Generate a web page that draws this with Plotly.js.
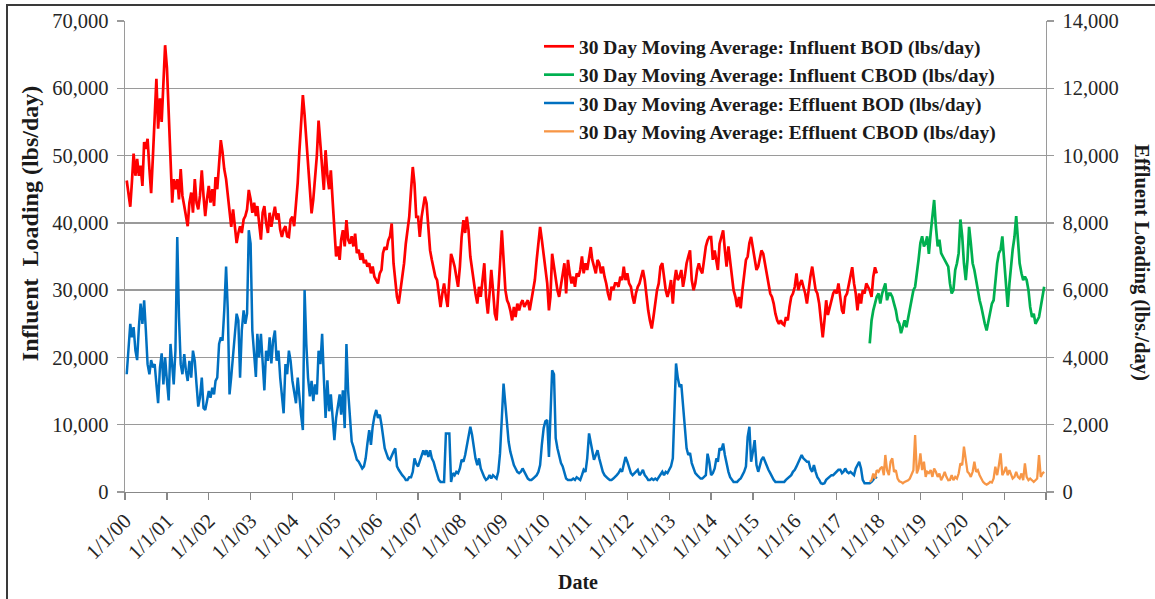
<!DOCTYPE html>
<html><head><meta charset="utf-8">
<script src="https://cdn.plot.ly/plotly-3.0.1.min.js"></script>
<style>
html,body{margin:0;padding:0;background:#fff;overflow:hidden;}
#chart{width:1155px;height:599px;}
#frame{position:absolute;left:6px;top:4px;width:1200px;height:700px;border:2px solid #3a3a3a;pointer-events:none;}
</style></head><body>
<div id="chart"></div><div id="frame"></div>
<script>
// ---- tick labels ----
const yearLabels = ['1/1/00','1/1/01','1/1/02','1/1/03','1/1/04','1/1/05','1/1/06','1/1/07','1/1/08','1/1/09','1/1/10',
  '1/1/11','1/1/12','1/1/13','1/1/14','1/1/15','1/1/16','1/1/17','1/1/18','1/1/19','1/1/20','1/1/21',''];
const yearTickDates = ['2000-01-01','2001-01-01','2002-01-01','2003-01-01','2004-01-01','2005-01-01','2006-01-01','2007-01-01',
  '2008-01-01','2009-01-01','2010-01-01','2011-01-01','2012-01-01','2013-01-01','2014-01-01','2015-01-01','2016-01-01',
  '2017-01-01','2018-01-01','2019-01-01','2020-01-01','2021-01-01','2022-01-01'];

// ---- series: semi-monthly readings (1st and 16th of each month) ----
const influentBODStart = [2000, 1];   // [year, half-month index]
const influentBOD = [
  46300,44500,42400,46000,50300,47000,49500,47000,48500,45500,52000,51000,52500,48000,44400,50000,57000,61400,54000,58500,55000,60000,66400,
  63000,57000,50000,43000,46500,45000,46500,43500,48000,44000,42500,41000,39500,43000,44500,41500,46500,43000,42000,44000,47800,44000,41000,43500,
  45500,43000,45000,42500,46800,45000,48500,52300,50500,48000,46500,44000,42500,39400,42000,40000,37000,38500,39500,38500,40500,41000,42000,44900,
  43500,41500,43000,41000,42500,40000,37500,41500,42500,40000,38500,41500,39400,41000,42400,40500,41400,39000,37900,39000,39500,38000,37900,40500,
  40900,39500,42900,46000,50500,54800,59000,56000,52500,49000,45000,41400,43500,46500,50000,55200,52000,47800,44900,50800,47000,45000,47800,43500,
  38500,35000,36500,34500,37500,38900,36500,40400,37500,36900,38000,36500,38400,35500,36000,34500,35500,34000,34500,33500,34000,32500,33500,32000,
  31500,31000,32500,33000,35500,36400,36000,37400,38000,39900,34000,31000,29000,28000,30000,32000,34000,36900,39000,40900,44900,48300,45800,40900,
  40900,37900,40900,42400,43900,42900,38900,35900,34500,33000,32000,31500,29000,27500,29500,31000,29000,27500,31500,35400,34500,33500,32000,30500,
  33500,37900,40400,38500,40900,39000,35000,33000,31000,29500,28000,30500,29000,32000,34000,29000,26500,29500,33000,30000,26500,25500,29000,34000,
  38900,34500,30000,28500,28000,27000,25500,27500,26000,28000,27000,28000,28500,27500,28000,28500,27000,28500,29500,31500,34500,37000,39400,37500,
  35000,33500,31000,27000,29000,35400,33500,31000,30000,29000,31000,32500,34000,29500,34500,32500,31000,32000,30500,32500,32000,33000,35000,32500,
  34000,33000,35000,36400,34500,33500,32500,34500,34000,32500,33500,32000,31000,29500,28500,30500,30000,31000,31000,30500,32000,31500,33500,31500,
  32500,31000,30500,29000,28000,29500,30500,31000,32000,33000,31500,29000,27000,25500,24300,26000,28500,30000,31000,33500,34000,32000,30000,29000,
  30000,31500,28000,31500,33000,31500,32000,33000,30500,32000,34000,35000,35900,31500,30000,31000,33000,34000,33000,32500,34500,36500,37400,37900,
  37900,34500,35900,34000,33000,36900,38000,38900,36000,33500,36500,34000,31500,30000,29000,27500,29000,27300,30000,32500,34500,35000,37000,37900,
  36000,34500,33000,33500,34500,35900,35400,34000,32000,31000,29500,29000,28000,26500,25500,25000,25500,25000,24800,26000,25500,27500,29000,29500,
  30500,32500,30000,31000,31500,30500,29500,28000,30500,32000,33500,32000,30000,29500,28000,25500,23000,25500,28500,26300,27500,28500,29500,30000,
  29500,31000,28500,27000,26500,29000,29500,31000,32500,33400,31000,29500,27000,29500,28000,30000,29500,31000,30500,30000,29000,32000,33400,32500
];

const influentCBODStart = [2017, 19];
const influentCBOD = [
  22100,25500,27000,28000,29000,
  29500,28000,29500,30500,31000,28500,29500,29500,29000,28000,27000,25500,25000,23600,24500,25500,24500,26000,27000,28500,30000,30500,33000,34500,
  37000,38000,36500,37000,38000,35400,38500,41000,43400,39500,36500,37500,35500,35000,34500,34000,33500,31000,29500,30000,33000,34000,35500,40500,
  38000,34000,31500,34500,39400,37000,34000,33000,31500,29500,28500,27500,26000,25000,24000,25500,27000,28000,28500,31500,34000,35500,36000,38000,
  34500,30500,27500,31000,33500,36000,37900,41000,37500,34000,32500,31500,32000,31500,30000,27500,26000,26500,25000,25500,26000,27500,29000,30500
];

const effluentBODStart = [2000, 1];
const effluentBOD = [
  3500,4200,5000,4600,4900,4200,3920,4900,5600,5000,5700,4800,3800,3500,3920,3700,3800,3200,2640,3700,4120,3200,4000,
  3300,2720,4400,3600,3200,4200,7580,5200,3800,3500,4100,3600,3300,3900,3400,4200,3900,3200,2540,2800,3400,2500,2440,2700,
  3000,2800,3100,2900,3300,3400,4400,4600,4500,5400,6700,5400,2900,3420,4000,4600,5300,5100,3400,4800,5400,5000,5300,7780,
  7380,4800,4000,3420,4700,4000,4700,3800,3020,4200,3900,4600,3820,4500,4800,3900,4200,3400,2900,2340,3800,3500,4200,3900,
  3300,3000,2640,3400,2800,2300,1840,6000,4400,3400,2840,3300,2700,3200,2900,4200,3800,4700,3400,2200,3320,2400,2900,2200,
  1540,2200,2500,2900,2300,3020,1900,4400,3000,2240,1500,1340,1100,960,900,800,700,760,1000,1440,1840,1400,1940,2240,
  2440,2200,2300,2000,1600,1300,1140,1000,960,1100,1200,1300,760,660,560,500,440,360,360,440,440,600,1000,840,
  760,900,1100,1240,1100,1240,1040,1240,1000,900,700,500,360,300,300,300,1740,1740,1740,300,560,500,600,560,
  700,960,900,1100,1340,1600,1940,1700,1340,1000,800,1000,700,560,440,360,400,500,400,500,440,400,600,1140,
  2200,3220,2600,2000,1500,1200,960,800,700,600,560,600,700,600,500,400,360,360,400,440,500,600,800,1400,
  1900,2100,2140,1040,2400,3620,3500,1600,1300,1100,860,760,600,400,360,360,360,400,360,440,400,360,500,660,
  600,1000,1740,1500,1300,960,1100,1240,1000,800,600,500,440,400,360,360,400,440,500,560,660,600,800,1040,
  900,700,560,500,560,600,660,500,560,660,500,440,360,360,400,360,400,360,440,500,600,500,600,560,
  660,760,1000,2800,3820,3400,3120,3200,2600,2000,1300,1100,1160,860,700,560,500,440,400,400,440,500,1140,900,
  500,560,700,1000,900,1300,1240,1440,1100,800,600,440,360,300,300,300,360,400,500,600,760,1640,1940,900,
  1200,1540,800,600,760,960,1040,900,800,660,560,440,360,300,300,300,300,300,300,360,400,440,500,600,
  660,760,900,1000,1100,1000,960,900,900,700,600,800,600,440,360,260,240,260,360,400,440,500,500,560,
  600,660,660,560,600,700,600,560,600,560,500,700,800,900,700,360,260,260,260,260,300,360,460,400
];

const effluentCBODStart = [2017, 19];
const effluentCBOD = [
  300,350,550,400,650,
  600,700,750,500,1100,650,500,900,1000,600,650,400,320,300,260,300,320,350,400,550,650,1690,550,700,
  1150,650,900,450,600,560,650,450,700,600,450,550,350,450,600,450,350,360,500,350,450,400,550,850,
  800,1350,1000,600,550,450,600,900,600,650,500,400,300,250,220,250,300,280,400,750,500,800,1150,500,
  600,750,500,650,550,400,450,600,450,400,550,350,850,450,350,400,350,300,350,400,1100,450,550,600
];

const seriesNames = [
  '30 Day Moving Average: Influent BOD (lbs/day)',
  '30 Day Moving Average: Influent CBOD (lbs/day)',
  '30 Day Moving Average: Effluent BOD (lbs/day)',
  '30 Day Moving Average: Effluent CBOD (lbs/day)'
];

function halfMonthDates(start, n) {
  const out = [];
  for (let k = 0; k < n; k++) {
    const h = start[1] + k;
    const yy = start[0] + Math.floor(h / 24);
    const r = h % 24;
    const m = Math.floor(r / 2) + 1;
    const d = (r % 2) ? 16 : 1;
    out.push(yy + '-' + String(m).padStart(2, '0') + '-' + String(d).padStart(2, '0'));
  }
  return out;
}

const FONT = 'Liberation Serif, Times New Roman, serif';
const traces = [
  {x: halfMonthDates(influentBODStart, influentBOD.length), y: influentBOD, name: seriesNames[0],
   type: 'scatter', mode: 'lines', line: {color: '#FF0000', width: 2.7}, yaxis: 'y'},
  {x: halfMonthDates(influentCBODStart, influentCBOD.length), y: influentCBOD, name: seriesNames[1],
   type: 'scatter', mode: 'lines', line: {color: '#00B050', width: 2.7}, yaxis: 'y'},
  {x: halfMonthDates(effluentBODStart, effluentBOD.length), y: effluentBOD, name: seriesNames[2],
   type: 'scatter', mode: 'lines', line: {color: '#0070C0', width: 2.5}, yaxis: 'y2'},
  {x: halfMonthDates(effluentCBODStart, effluentCBOD.length), y: effluentCBOD, name: seriesNames[3],
   type: 'scatter', mode: 'lines', line: {color: '#F79646', width: 2.3}, yaxis: 'y2'}
];

const gridC = '#9a9a9a';
const layout = {
  width: 1155, height: 599,
  margin: {l: 125, r: 109, t: 21, b: 107, pad: 0},
  paper_bgcolor: '#ffffff', plot_bgcolor: '#ffffff',
  showlegend: true,
  legend: {x: 0.4495, xanchor: 'left', y: 0.987, yanchor: 'top', bgcolor: 'rgba(0,0,0,0)', borderwidth: 0,
           font: {family: FONT, size: 19.5, color: '#1a1a1a', weight: 'bold'}, tracegroupgap: 0},
  xaxis: {type: 'date', range: ['2000-01-01', '2022-01-01'], tickmode: 'array', tickvals: yearTickDates, ticktext: yearLabels,
          tickangle: -45, ticks: 'outside', ticklen: 7, tickcolor: '#888', tickwidth: 1.3,
          showgrid: false, zeroline: false, showline: true, linecolor: '#888', linewidth: 1.3,
          tickfont: {family: FONT, size: 21, color: '#262626'}},
  yaxis: {range: [0, 70000], dtick: 10000, tick0: 0, tickformat: ',d', ticks: 'outside', ticklen: 7, tickcolor: gridC, tickwidth: 1.3,
          showgrid: true, gridcolor: gridC, gridwidth: 1.3, zeroline: false, showline: true, linecolor: gridC, linewidth: 1.3,
          ticklabelstandoff: 4, tickfont: {family: FONT, size: 20.5, color: '#262626'}},
  yaxis2: {range: [0, 14000], dtick: 2000, tick0: 0, tickformat: ',d', overlaying: 'y', side: 'right', anchor: 'x',
           ticks: 'outside', ticklen: 7, tickcolor: gridC, tickwidth: 1.3,
           showgrid: false, zeroline: false, showline: true, linecolor: gridC, linewidth: 1.3,
           ticklabelstandoff: 4, tickfont: {family: FONT, size: 20.5, color: '#262626'}},
  annotations: [
    {text: '<b>Influent\u00a0\u00a0Loading (lbs/day)</b>', xref: 'paper', yref: 'paper', x: -0.103, y: 0.569,
     textangle: -90, showarrow: false, xanchor: 'center', yanchor: 'middle', font: {family: FONT, size: 24, color: '#1a1a1a'}},
    {text: '<b>Effluent Loading (lbs./day)</b>', xref: 'paper', yref: 'paper', x: 1.104, y: 0.488,
     textangle: 90, showarrow: false, xanchor: 'center', yanchor: 'middle', font: {family: FONT, size: 20.5, color: '#1a1a1a'}},
    {text: '<b>Date</b>', xref: 'paper', yref: 'paper', x: 0.492, y: -0.191,
     showarrow: false, xanchor: 'center', yanchor: 'middle', font: {family: FONT, size: 20, color: '#1a1a1a'}}
  ]
};

Plotly.newPlot('chart', traces, layout, {displayModeBar: false, staticPlot: true});
</script></body></html>
